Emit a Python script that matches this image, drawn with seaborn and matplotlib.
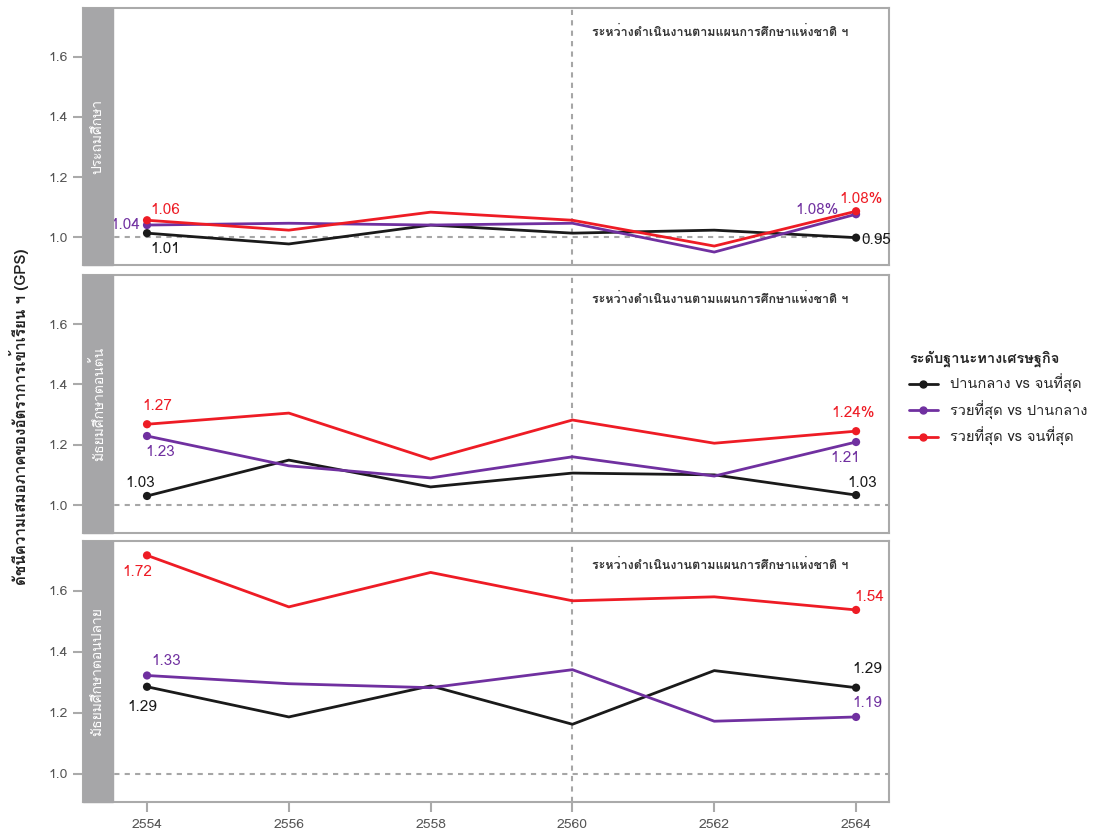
import numpy as np
import pandas as pd
import seaborn as sns
import matplotlib.pyplot as plt
import matplotlib.font_manager as fm
from matplotlib.ft2font import FT2Font
from matplotlib.lines import Line2D
from matplotlib.patches import Rectangle

# data
years = [2554, 2556, 2558, 2560, 2562, 2564]
levels = ["ประถมศึกษา", "มัธยมศึกษาตอนต้น", "มัธยมศึกษาตอนปลาย"]
groups = ["ปานกลาง vs จนที่สุด", "รวยที่สุด vs ปานกลาง", "รวยที่สุด vs จนที่สุด"]

prim_mid_poor = [1.013, 0.977, 1.040, 1.013, 1.023, 0.998]
prim_rich_mid = [1.040, 1.046, 1.040, 1.046, 0.950, 1.076]
prim_rich_poor = [1.056, 1.023, 1.083, 1.056, 0.970, 1.086]

low_mid_poor = [1.030, 1.149, 1.060, 1.106, 1.100, 1.033]
low_rich_mid = [1.229, 1.130, 1.090, 1.160, 1.096, 1.209]
low_rich_poor = [1.268, 1.305, 1.152, 1.282, 1.205, 1.245]

up_mid_poor = [1.285, 1.186, 1.288, 1.162, 1.338, 1.282]
up_rich_mid = [1.322, 1.295, 1.282, 1.341, 1.172, 1.186]
up_rich_poor = [1.716, 1.547, 1.660, 1.567, 1.580, 1.537]

# end labels: (first, last) per group per panel
prim_labels = [("1.01", "0.95"), ("1.04", "1.08%"), ("1.06", "1.08%")]
low_labels = [("1.03", "1.03"), ("1.23", "1.21"), ("1.27", "1.24%")]
up_labels = [("1.29", "1.29"), ("1.33", "1.19"), ("1.72", "1.54")]

ylabel = "ดัชนีความเสมอภาคของอัตราการเข้าเรียน ฯ (GPS)"
note = "ระหว่างดำเนินงานตามแผนการศึกษาแห่งชาติ ฯ"
legend_title = "ระดับฐานะทางเศรษฐกิจ"

# label offsets in pixels (first, last) per group per panel
prim_offs = [((18, -16), (20, -2)), ((-22, 0), (-39, 4)), ((18, 10), (5, 12))]
low_offs = [((-7, 13), (6, 12)), ((13, -16), (-11, -16)), ((10, 18), (-3, 18))]
up_offs = [((-5, -20), (11, 19)), ((19, 14), (11, 14)), ((-10, -17), (13, 13))]

colors = ["#1a1a1a", "#7030a0", "#ee1c25"]

sns.set_style("white")
thai = None
for f in fm.fontManager.ttflist:
    try:
        if ord("ก") in FT2Font(f.fname).get_charmap():
            thai = f.name
            break
    except Exception:
        pass
plt.rcParams["font.family"] = [thai, "DejaVu Sans"] if thai else ["DejaVu Sans"]

rows = []
panels = [
    (levels[0], [prim_mid_poor, prim_rich_mid, prim_rich_poor]),
    (levels[1], [low_mid_poor, low_rich_mid, low_rich_poor]),
    (levels[2], [up_mid_poor, up_rich_mid, up_rich_poor]),
]
for lev, series in panels:
    for g, vals in zip(groups, series):
        for yr, v in zip(years, vals):
            rows.append({"level": lev, "group": g, "year": yr, "gps": v})
df = pd.DataFrame(rows)

fig = plt.figure(figsize=(10.95, 8.33), dpi=100)
boxes = [(0.6819, 0.3085), (0.3601, 0.3097), (0.0372, 0.3133)]
all_labels = [prim_labels, low_labels, up_labels]
all_offs = [prim_offs, low_offs, up_offs]
pal = dict(zip(groups, colors))

for i, lev in enumerate(levels):
    b, h = boxes[i]
    ax = fig.add_axes([0.0758, b, 0.7361, h])
    sub = df[df.level == lev]
    ax.axhline(1.0, color="#a6a6a6", ls=(0, (2.5, 2.5)), lw=1.5, zorder=1)
    ax.axvline(2560, color="#a6a6a6", ls=(0, (2.5, 2.5)), lw=1.5, zorder=1)
    sns.lineplot(data=sub, x="year", y="gps", hue="group", palette=pal,
                 lw=2, legend=False, ax=ax, zorder=3)
    ends = sub[sub.year.isin([years[0], years[-1]])]
    sns.scatterplot(data=ends, x="year", y="gps", hue="group", palette=pal,
                    s=35, edgecolor="none", legend=False, ax=ax, zorder=4)
    for gi, g in enumerate(groups):
        gv = sub[sub.group == g].sort_values("year")
        for k, idx in enumerate([0, -1]):
            ax.annotate(all_labels[i][gi][k],
                        (gv.year.iloc[idx], gv.gps.iloc[idx]),
                        xytext=all_offs[i][gi][k], textcoords="offset pixels",
                        ha="center", va="center", fontsize=11,
                        color=colors[gi], zorder=5)
    ax.text(0.6315, 0.905, note, transform=ax.transAxes, fontsize=9,
            color="#333333", fontweight="bold", ha="left", va="center")
    ax.set_xlim(2553.097, 2564.465)
    ax.set_ylim(0.907, 1.763)
    ax.set_yticks([1.0, 1.2, 1.4, 1.6])
    ax.set_yticklabels(["1.0", "1.2", "1.4", "1.6"])
    ax.set_xticks(years)
    ax.set_xlabel("")
    ax.set_ylabel("")
    ax.tick_params(axis="both", colors="#aaaaaa", labelcolor="#555555",
                   labelsize=10, length=7, width=1.5, direction="out")
    ax.tick_params(axis="y", left=True, pad=4)
    if i < 2:
        ax.tick_params(axis="x", bottom=False, labelbottom=False)
    else:
        ax.tick_params(axis="x", bottom=True, pad=5)
    for sp in ax.spines.values():
        sp.set_color("#aaaaaa")
        sp.set_linewidth(1.5)
    ax.add_patch(Rectangle((0, 0), 0.0372, 1, transform=ax.transAxes,
                           color="#a6a6a8", zorder=6, clip_on=False))
    ax.text(0.0186, 0.5, lev, transform=ax.transAxes, rotation=90,
            ha="center", va="center", color="white", fontsize=10, zorder=7)

fig.text(0.017, 0.5, ylabel, rotation=90, ha="center", va="center",
         fontsize=11, fontweight="bold", color="#222222")

handles = [Line2D([0], [0], color=c, lw=2, marker="o", markersize=5)
           for c in colors]
leg = fig.legend(handles, groups, title=legend_title, loc="upper left",
                 bbox_to_anchor=(0.818, 0.595), frameon=False, fontsize=10.5,
                 handlelength=2, alignment="left")
leg.get_title().set_fontweight("bold")
leg.get_title().set_fontsize(10.5)

fig.savefig("out.png", dpi=100)
